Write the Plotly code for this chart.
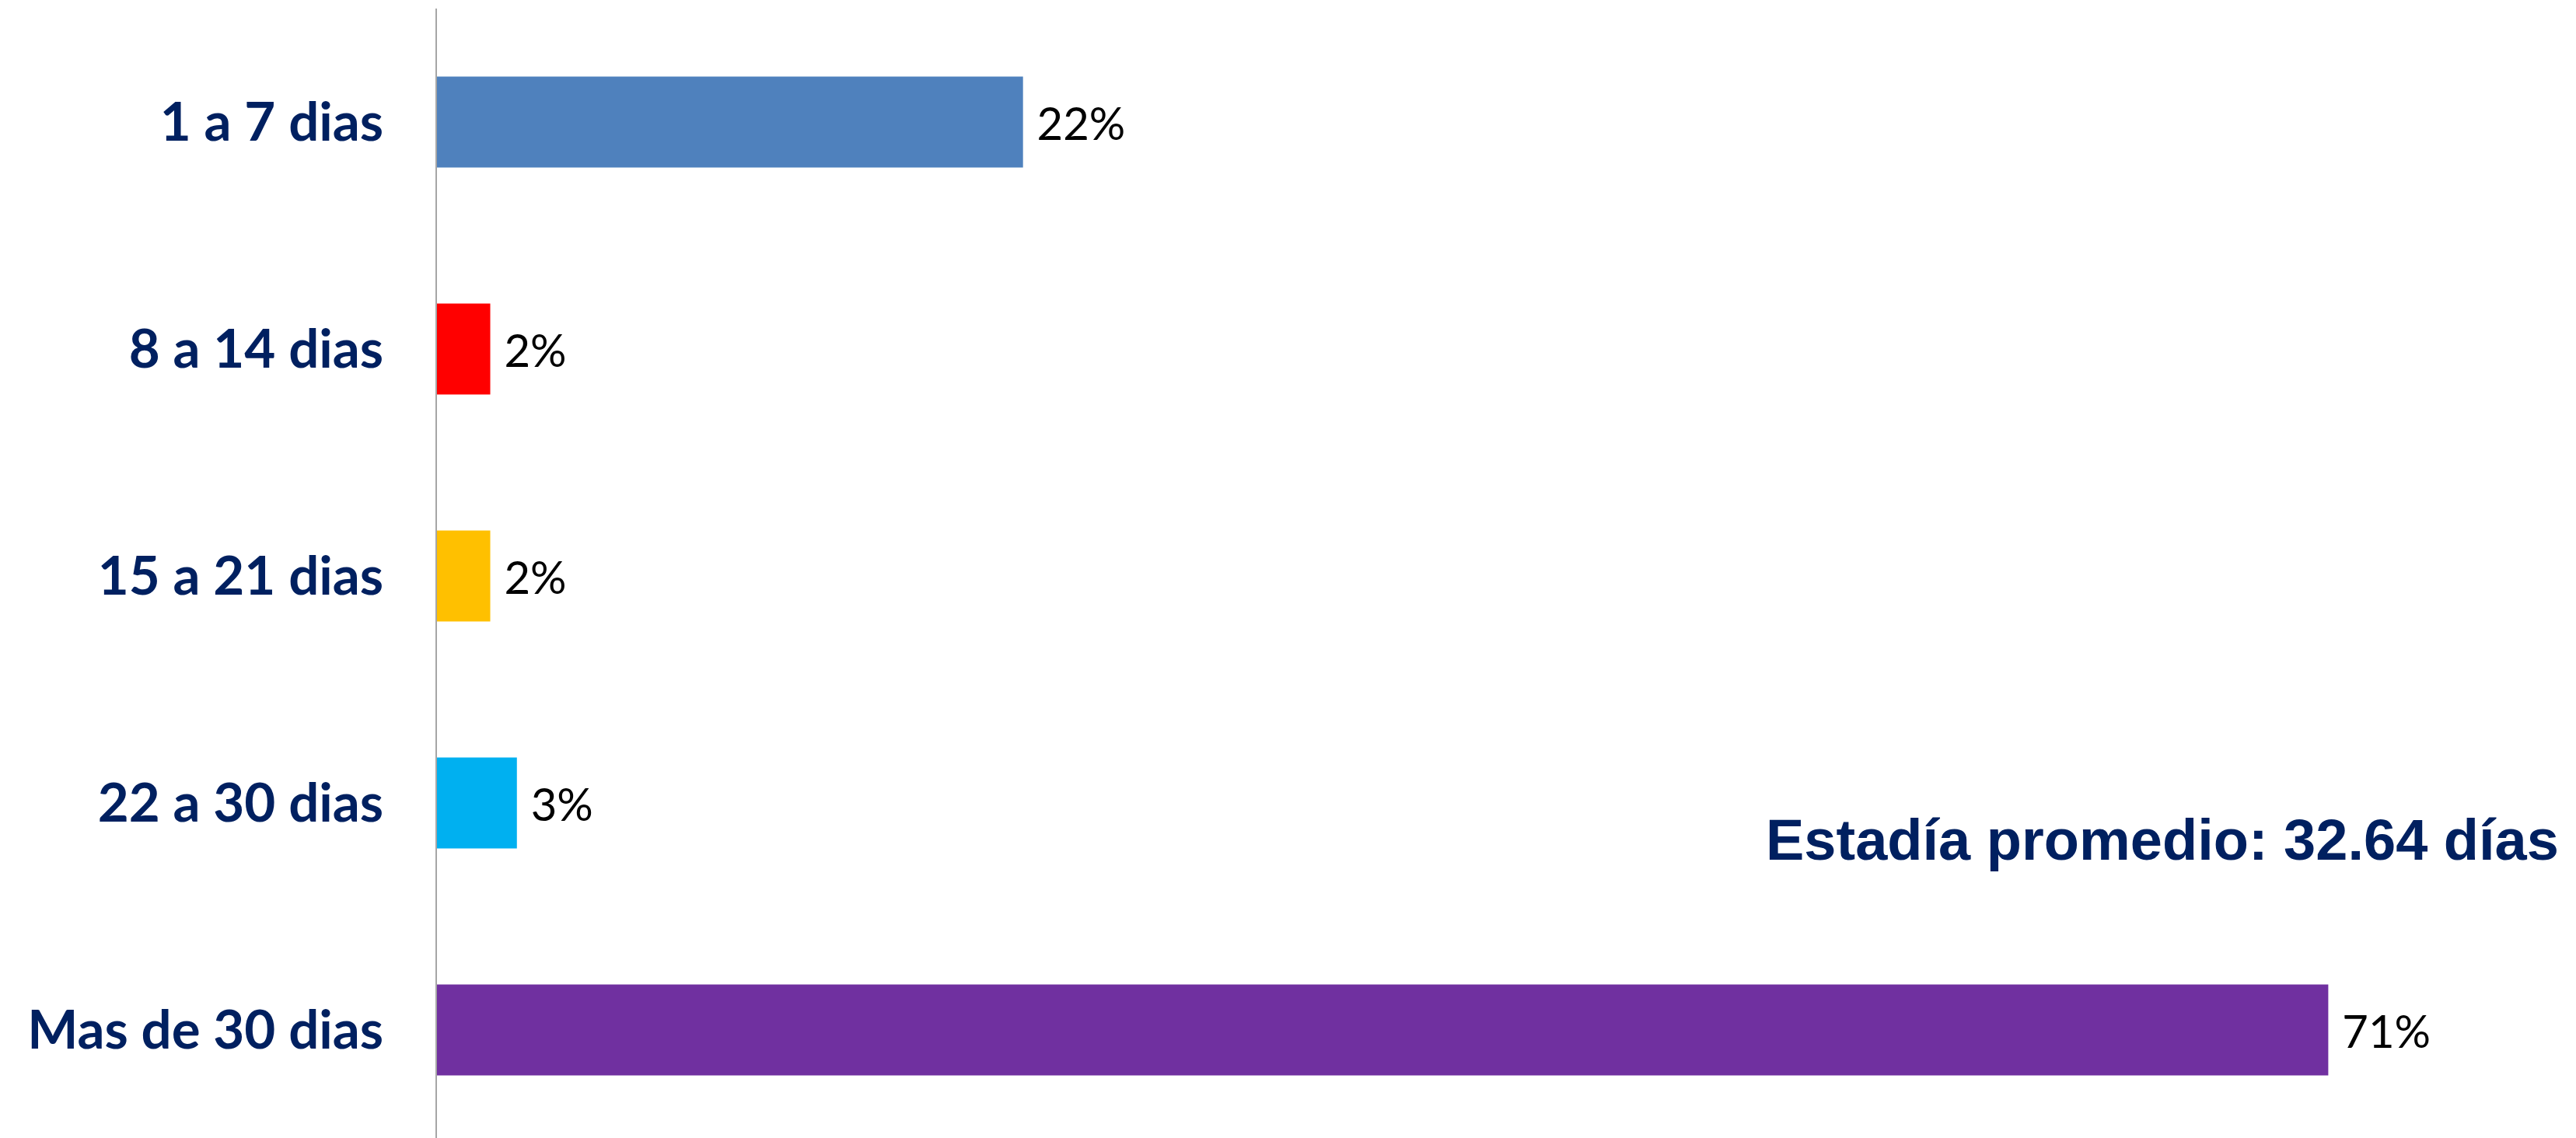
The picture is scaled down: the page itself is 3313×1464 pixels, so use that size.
import plotly.graph_objects as go

categorias = ["1 a 7 dias", "8 a 14 dias", "15 a 21 dias", "22 a 30 dias", "Mas de 30 dias"]
porcentajes = [22, 2, 2, 3, 71]
colores = ["#4F81BD", "#FF0000", "#FFC000", "#00B0F0", "#7030A0"]
nota = "Estadía promedio: 32.64 días"

navy = "#002060"

fig = go.Figure()
fig.add_trace(go.Bar(
    y=categorias,
    x=porcentajes,
    orientation="h",
    marker=dict(color=colores, line_width=0),
    width=0.4,
    texttemplate=" %{x}%",
    textposition="outside",
    textfont=dict(family="Lato", size=58, color="black"),
    constraintext="none",
    cliponaxis=False,
    showlegend=False,
))

fig.add_annotation(
    text="<b>" + nota + "</b>",
    xref="paper", yref="paper",
    x=0.9927, y=0.264,
    xanchor="right", yanchor="middle",
    showarrow=False,
    font=dict(family="Liberation Sans", size=74, color=navy),
)

# the page body adds 8px around the figure, so the figure is slightly smaller
fig.update_layout(
    width=3305, height=1456,
    margin=dict(l=554, r=0, t=3, b=0),
    plot_bgcolor="white",
    paper_bgcolor="white",
    bargap=0.6,
)
fig.update_xaxes(range=[0, 80.3], visible=False, automargin=False)
fig.update_yaxes(
    type="category",
    range=[4.476, -0.5],
    automargin=False,
    showline=True, linecolor="#A6A6A6", linewidth=2,
    showgrid=False, ticks="",
    ticklabelstandoff=53,
    tickfont=dict(family="Lato", size=69, color=navy, weight="bold"),
)

fig.write_html("out.html")
